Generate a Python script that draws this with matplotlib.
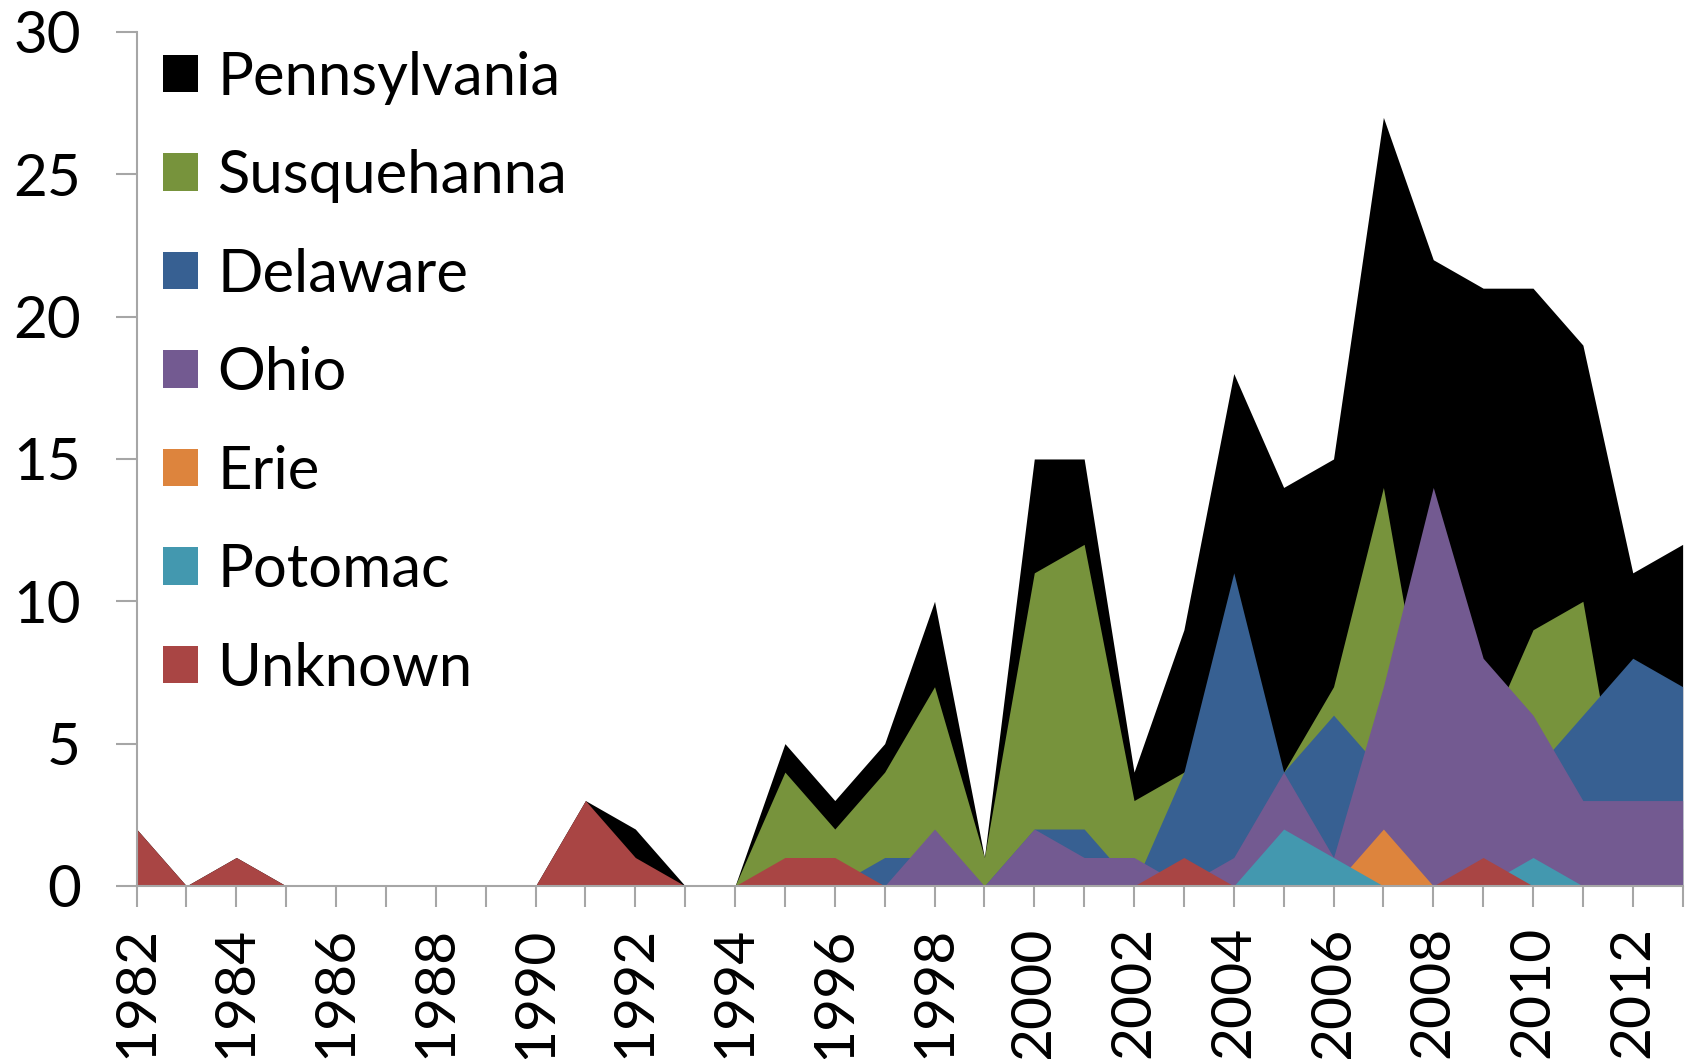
import matplotlib
matplotlib.use("Agg")
import matplotlib.pyplot as plt
from matplotlib.patches import Patch

years = list(range(1982, 2014))

pennsylvania = [2,0,1,0,0,0,0,0,0,3,2,0,0,5,3,5,10,1,15,15,4,9,18,14,15,27,22,21,21,19,11,12]
susquehanna  = [0,0,0,0,0,0,0,0,0,0,0,0,0,4,2,4,7,1,11,12,3,4,6,4,7,14,4,5,9,10,0,2]
delaware     = [0,0,0,0,0,0,0,0,0,0,0,0,0,0,0,1,1,0,2,2,0,4,11,4,6,4,4,6,4,6,8,7]
ohio         = [0,0,0,0,0,0,0,0,0,0,0,0,0,0,0,0,2,0,2,1,1,0,1,4,1,7,14,8,6,3,3,3]
erie         = [0,0,0,0,0,0,0,0,0,0,0,0,0,0,0,0,0,0,0,0,0,0,0,0,0,2,0,0,0,0,0,0]
potomac      = [0,0,0,0,0,0,0,0,0,0,0,0,0,0,0,0,0,0,0,0,0,0,0,2,1,0,0,0,1,0,0,0]
unknown      = [2,0,1,0,0,0,0,0,0,3,1,0,0,1,1,0,0,0,0,0,0,1,0,0,0,0,0,1,0,0,0,0]

names = ["Pennsylvania", "Susquehanna", "Delaware", "Ohio", "Erie", "Potomac", "Unknown"]
series = [pennsylvania, susquehanna, delaware, ohio, erie, potomac, unknown]
colors = ["#000000", "#77933C", "#376092", "#735A91", "#DD843D", "#4398AF", "#A94544"]

plt.rcParams['font.family'] = ['Lato', 'DejaVu Sans']

fig = plt.figure(figsize=(16.86, 10.59), dpi=100)
ax = fig.add_axes([0.081, 0.1634, 0.917, 0.8064])

for i, (vals, c) in enumerate(zip(series, colors)):
    ax.fill_between(years, 0, vals, color=c, linewidth=0, zorder=2 + i)

ax.set_xlim(1982, 2013)
ax.set_ylim(0, 30)

axis_gray = "#A6A6A6"
for s in ["top", "right"]:
    ax.spines[s].set_visible(False)
for s in ["left", "bottom"]:
    ax.spines[s].set_color(axis_gray)
    ax.spines[s].set_linewidth(1.5)
    ax.spines[s].set_zorder(10)

ax.set_yticks(range(0, 31, 5))
ax.set_xticks(years)
ax.set_xticklabels([str(y) if y % 2 == 0 else "" for y in years], rotation=90)
ax.tick_params(axis="both", colors=axis_gray, labelcolor="black",
               length=15, width=1.5, direction="out")
ax.tick_params(axis="y", pad=25, labelsize=42)
ax.tick_params(axis="x", pad=14, labelsize=41)

handles = [Patch(facecolor=c, edgecolor="none") for c in colors]
leg = ax.legend(handles, names, loc="upper left", bbox_to_anchor=(0.017, 0.978),
                frameon=False, fontsize=43, handlelength=0.59, handleheight=0.59,
                handletextpad=0.32, labelspacing=0.745, borderpad=0, borderaxespad=0)
leg.set_zorder(20)

fig.savefig("out.png", dpi=100)
